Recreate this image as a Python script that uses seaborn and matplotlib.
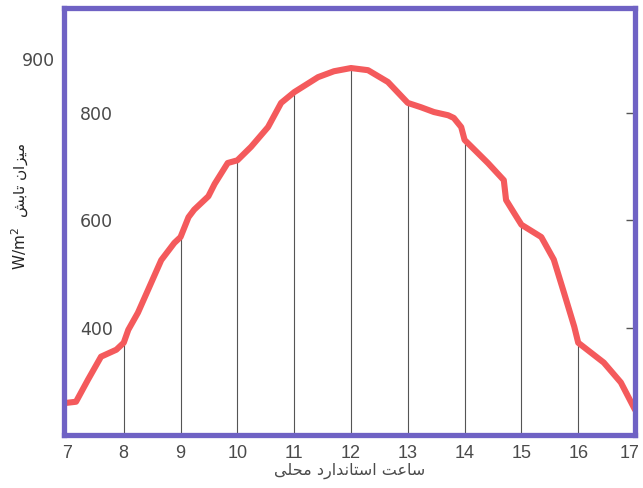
import numpy as np
import pandas as pd
import matplotlib
matplotlib.use("Agg")
import matplotlib.pyplot as plt
import matplotlib.transforms as mtransforms
import seaborn as sns

# ---- data ----
curve_hours = [6.95, 7.0, 7.16, 7.37, 7.6, 7.87, 8.0, 8.08, 8.25, 8.43, 8.66, 8.89,
               9.0, 9.14, 9.24, 9.36, 9.49, 9.6, 9.83, 10.0, 10.24, 10.54, 10.77,
               11.0, 11.42, 11.7, 12.0, 12.3, 12.65, 13.0, 13.23, 13.46, 13.71,
               13.81, 13.94, 14.0, 14.41, 14.69, 14.73, 14.87, 15.0, 15.35, 15.57,
               15.75, 15.93, 16.0, 16.45, 16.75, 17.0]
curve_values = [260, 260, 262, 303, 346, 359, 372, 396, 428, 471, 526, 558,
                569, 606, 620, 632, 645, 668, 707, 712, 737, 774, 819,
                839, 867, 878, 884, 880, 858, 819, 811, 802, 796,
                791, 774, 750, 707, 675, 638, 614, 592, 569, 527,
                465, 402, 372, 335, 298, 247]

hour_marks = [8, 9, 10, 11, 12, 13, 14, 15, 16]
xtick_values = [7, 8, 9, 10, 11, 12, 13, 14, 15, 16, 17]
xtick_labels = [str(v) for v in xtick_values]
ytick_values = [400, 600, 800, 900]
ytick_labels = ["400", "600", "800", "900"]

# Persian labels (presentation forms, visual order)
# "ساعت استاندارد محلی"
xlabel_text = ("\uFEF0\uFEE0\uFEA4\uFEE3 "
               "\uFEA9\uFEAD\uFE8D\uFEAA\uFEE7\uFE8E\uFE98\uFEB3\uFE8D "
               "\uFE96\uFECB\uFE8E\uFEB3")
# "میزان تابش W/m²"
ylabel_text = ("W/m$^2$  "
               "\uFEB6\uFE91\uFE8E\uFE97 \uFEE5\uFE8D\uFEB0\uFEF4\uFEE3")

df = pd.DataFrame({"hour": curve_hours, "value": curve_values})

# ---- style ----
sns.set_theme(style="white")
plt.rcParams["font.family"] = ["Liberation Sans", "DejaVu Sans"]
plt.rcParams["mathtext.fontset"] = "dejavusans"

purple = "#6f62c4"
red = "#f45a5c"
text_gray = "#4a4a4a"

fig = plt.figure(figsize=(6.43, 4.88), dpi=100)
ax = fig.add_axes([0.0988, 0.1086, 0.8888, 0.874])

ylim = (200, 995)
ax.set_xlim(6.94, 16.97)
ax.set_ylim(*ylim)

# vertical hour lines from the curve down to the axis
hour_tops = np.interp(hour_marks, curve_hours, curve_values)
ax.vlines(hour_marks, ymin=ylim[0], ymax=hour_tops, colors="#555555",
          linewidth=0.8, zorder=1)

sns.lineplot(data=df, x="hour", y="value", ax=ax, color=red, linewidth=4.4,
             sort=False, zorder=2, solid_joinstyle="round",
             solid_capstyle="round")

for sp in ax.spines.values():
    sp.set_color(purple)
    sp.set_linewidth(3.8)
    sp.set_zorder(3)

# x ticks
ax.set_xticks(xtick_values, labels=xtick_labels)
ax.tick_params(axis="x", length=0, pad=7, labelsize=13, labelcolor=text_gray)

# y ticks
ax.set_yticks(ytick_values, labels=ytick_labels)
ax.tick_params(axis="y", direction="in", length=6.5, width=1.0,
               color="#555555", labelsize=12.5, labelcolor=text_gray,
               right=True, pad=6)
for lab in ax.get_yticklabels():
    lab.set_fontfamily(["DejaVu Sans"])
for t, v in zip(ax.yaxis.get_major_ticks(), ytick_values):
    if v == 900:
        t.tick1line.set_visible(False)
        t.tick2line.set_visible(False)
    else:
        t.set_pad(-12)
        t.label1.set_horizontalalignment("left")

# keep the last x label inside the figure
last = ax.xaxis.get_major_ticks()[-1]
last.label1.set_transform(last.label1.get_transform() +
                          mtransforms.ScaledTranslation(-5 / 100, 0,
                                                        fig.dpi_scale_trans))

ax.set_xlabel(xlabel_text, fontsize=11.5, color=text_gray, family=["DejaVu Sans"])
ax.xaxis.set_label_coords(0.5, -0.066)
ax.set_ylabel(ylabel_text, fontsize=11, color="#222222", family=["DejaVu Sans"])
ax.yaxis.label.set_verticalalignment("center")
ax.yaxis.set_label_coords(-0.076, 0.535)

ax.grid(False)
fig.savefig("out.png", dpi=100)
